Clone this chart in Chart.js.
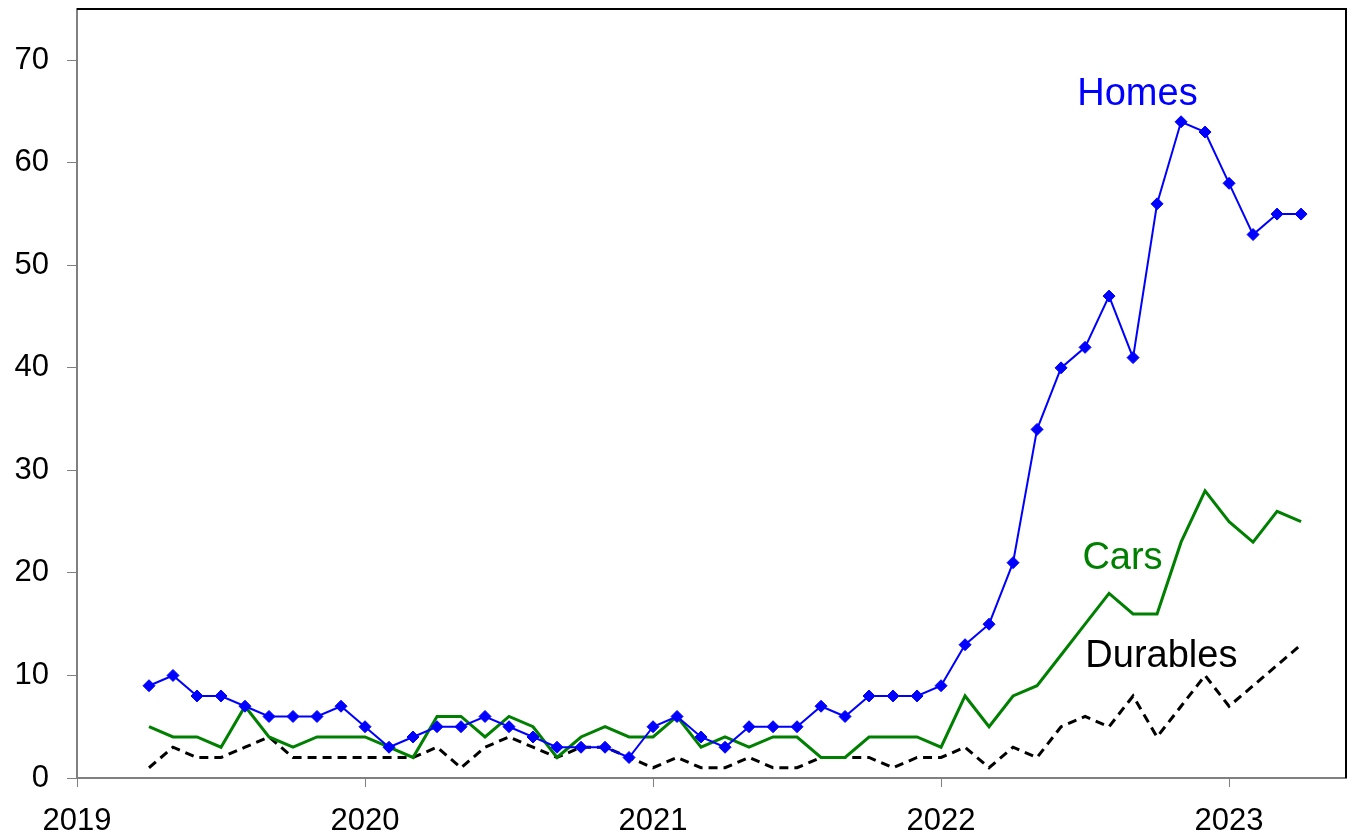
<!DOCTYPE html>
<html>
<head>
<meta charset="utf-8">
<script src="https://cdn.jsdelivr.net/npm/chart.js@4.4.1/dist/chart.umd.min.js"></script>
<style>
  html, body { margin: 0; padding: 0; background: #fff; }
  #wrap { width: 1353px; height: 838px; }
</style>
</head>
<body>
<div id="wrap"><canvas id="chart"></canvas></div>
<script>
var months = [
  '2019-04', '2019-05', '2019-06', '2019-07', '2019-08', '2019-09', '2019-10', '2019-11', '2019-12',
  '2020-01', '2020-02', '2020-03', '2020-04', '2020-05', '2020-06', '2020-07', '2020-08', '2020-09', '2020-10', '2020-11', '2020-12',
  '2021-01', '2021-02', '2021-03', '2021-04', '2021-05', '2021-06', '2021-07', '2021-08', '2021-09', '2021-10', '2021-11', '2021-12',
  '2022-01', '2022-02', '2022-03', '2022-04', '2022-05', '2022-06', '2022-07', '2022-08', '2022-09', '2022-10', '2022-11', '2022-12',
  '2023-01', '2023-02', '2023-03', '2023-04'
];
var homes = [9, 10, 8, 8, 7, 6, 6, 6, 7,
  5, 3, 4, 5, 5, 6, 5, 4, 3, 3, 3, 2,
  5, 6, 4, 3, 5, 5, 5, 7, 6, 8, 8, 8,
  9, 13, 15, 21, 34, 40, 42, 47, 41, 56, 64, 63,
  58, 53, 55, 55];
var cars = [5, 4, 4, 3, 7, 4, 3, 4, 4,
  4, 3, 2, 6, 6, 4, 6, 5, 2, 4, 5, 4,
  4, 6, 3, 4, 3, 4, 4, 2, 2, 4, 4, 4,
  3, 8, 5, 8, 9, 12, 15, 18, 16, 16, 23, 28,
  25, 23, 26, 25];
var durables = [1, 3, 2, 2, 3, 4, 2, 2, 2,
  2, 2, 2, 3, 1, 3, 4, 3, 2, 3, 3, 2,
  1, 2, 1, 1, 2, 1, 1, 2, 2, 2, 1, 2,
  2, 3, 1, 3, 2, 5, 6, 5, 8, 4, 7, 10,
  7, 9, 11, 13];
var yearTicks = [2019, 2020, 2021, 2022, 2023];
var valueTicks = [0, 10, 20, 30, 40, 50, 60, 70];

// month string -> decimal year for the linear x axis
function toYear(m) {
  return parseInt(m.slice(0, 4), 10) + (parseInt(m.slice(5), 10) - 1) / 12;
}
function points(values) {
  return values.map(function (v, i) { return { x: toYear(months[i]), y: v }; });
}

var seriesLabels = [
  { text: 'Homes', color: '#0000ff', x: 2022.682, y: 65.6 },
  { text: 'Cars', color: '#008000', x: 2022.630, y: 20.35 },
  { text: 'Durables', color: '#000000', x: 2022.765, y: 10.85 }
];

var framePlugin = {
  id: 'frame',
  afterDraw: function (chart) {
    var a = chart.chartArea, ctx = chart.ctx;
    ctx.save();
    ctx.strokeStyle = '#000';
    ctx.lineWidth = 2;
    ctx.beginPath();
    ctx.moveTo(a.left, a.top);
    ctx.lineTo(a.right, a.top);
    ctx.lineTo(a.right, a.bottom);
    ctx.stroke();
    ctx.restore();
  }
};

var labelPlugin = {
  id: 'seriesLabels',
  afterDatasetsDraw: function (chart) {
    var ctx = chart.ctx, xs = chart.scales.x, ys = chart.scales.y;
    ctx.save();
    ctx.font = '38px "Liberation Sans", Arial, sans-serif';
    ctx.textAlign = 'center';
    ctx.textBaseline = 'alphabetic';
    seriesLabels.forEach(function (l) {
      ctx.fillStyle = l.color;
      ctx.fillText(l.text, xs.getPixelForValue(l.x), ys.getPixelForValue(l.y));
    });
    ctx.restore();
  }
};

var tickFont = { family: '"Liberation Sans", Arial, sans-serif', size: 31 };

new Chart(document.getElementById('chart'), {
  type: 'line',
  data: {
    datasets: [{
      label: 'Homes',
      data: points(homes),
      borderColor: '#0000ff',
      borderWidth: 2,
      pointStyle: 'rectRot',
      pointRadius: 6,
      pointBackgroundColor: '#0000ff',
      pointBorderColor: '#0000ff',
      pointBorderWidth: 1,
      tension: 0
    }, {
      label: 'Cars',
      data: points(cars),
      borderColor: '#008000',
      borderWidth: 3,
      pointRadius: 0,
      tension: 0
    }, {
      label: 'Durables',
      data: points(durables),
      borderColor: '#000000',
      borderWidth: 3,
      borderDash: [9, 6],
      pointRadius: 0,
      tension: 0
    }]
  },
  options: {
    responsive: true,
    maintainAspectRatio: false,
    animation: false,
    devicePixelRatio: 1,
    layout: { padding: { top: 9, right: 7, left: 0, bottom: 0 } },
    plugins: { legend: { display: false }, tooltip: { enabled: false } },
    scales: {
      x: {
        type: 'linear',
        min: 2019,
        max: 2023.406,
        afterBuildTicks: function (axis) {
          axis.ticks = yearTicks.map(function (v) { return { value: v }; });
        },
        afterFit: function (axis) {
          axis.height = 60;
          axis.paddingLeft = 0;
          axis.paddingRight = 0;
        },
        border: { display: true, color: '#808080', width: 2 },
        grid: { drawOnChartArea: false, drawTicks: true, tickLength: 9, color: '#808080', lineWidth: 1 },
        ticks: {
          font: tickFont,
          color: '#000',
          padding: 16,
          maxRotation: 0,
          autoSkip: false,
          callback: function (v) { return String(v); }
        }
      },
      y: {
        min: 0,
        max: 75,
        afterBuildTicks: function (axis) {
          axis.ticks = valueTicks.map(function (v) { return { value: v }; });
        },
        afterFit: function (axis) {
          axis.width = 77;
          axis.paddingTop = 0;
          axis.paddingBottom = 0;
        },
        border: { display: true, color: '#808080', width: 2 },
        grid: { drawOnChartArea: false, drawTicks: true, tickLength: 10, color: '#808080', lineWidth: 1 },
        ticks: { font: tickFont, color: '#000', padding: 18, autoSkip: false }
      }
    }
  },
  plugins: [framePlugin, labelPlugin]
});
</script>
</body>
</html>
